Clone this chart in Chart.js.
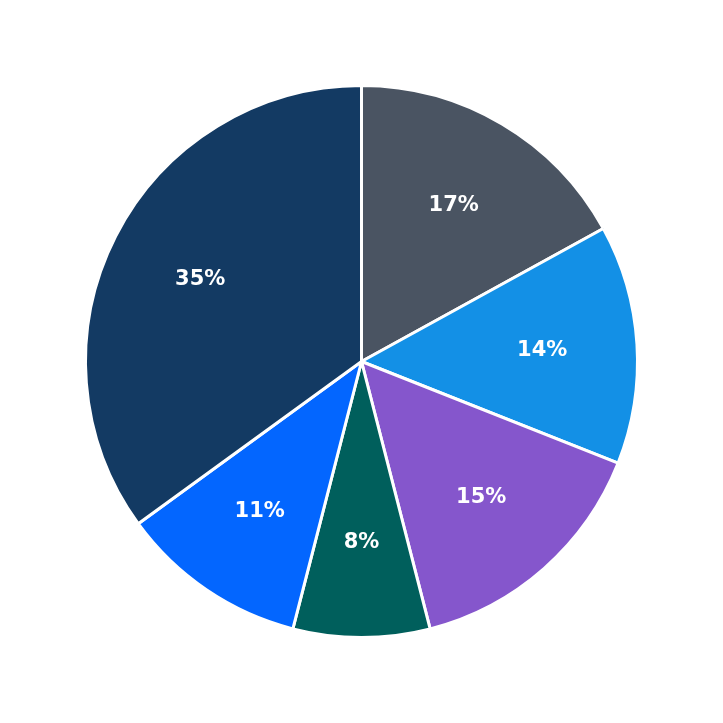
<!DOCTYPE html>
<html><head><meta charset="utf-8">
<script src="https://cdn.jsdelivr.net/npm/chart.js@4"></script>
<style>html,body{margin:0;padding:0;background:#fff}#w{width:723px;height:723px}</style>
</head><body><div id="w"><canvas id="c"></canvas></div>
<script>
const categories = ["A","B","C","D","E","F"];
const values = [17,14,15,8,11,35];
const colors = ["#4a5462","#1390e6","#8556cc","#005f5c","#0366ff","#133a63"];
const labelPlugin = {
  id:'lbl',
  afterDatasetsDraw(chart){
    const ctx=chart.ctx, meta=chart.getDatasetMeta(0);
    const total=values.reduce((a,b)=>a+b,0);
    ctx.save();
    ctx.font='bold 21px "DejaVu Sans"';
    ctx.fillStyle='#fff';ctx.textAlign='center';ctx.textBaseline='middle';
    meta.data.forEach((arc,i)=>{
      const a=(arc.startAngle+arc.endAngle)/2, r=arc.outerRadius*0.656;
      ctx.fillText(Math.round(values[i]/total*100)+'%', arc.x+Math.cos(a)*r, arc.y+Math.sin(a)*r);
    });
    ctx.restore();
  }
};
new Chart(document.getElementById('c'),{
  type:'pie',
  data:{labels:categories,datasets:[{data:values,backgroundColor:colors,borderColor:'#fff',borderWidth:3}]},
  options:{responsive:true,maintainAspectRatio:false,animation:false,
    layout:{padding:84},
    plugins:{legend:{display:false},tooltip:{enabled:false}}},
  plugins:[labelPlugin]
});
</script></body></html>
